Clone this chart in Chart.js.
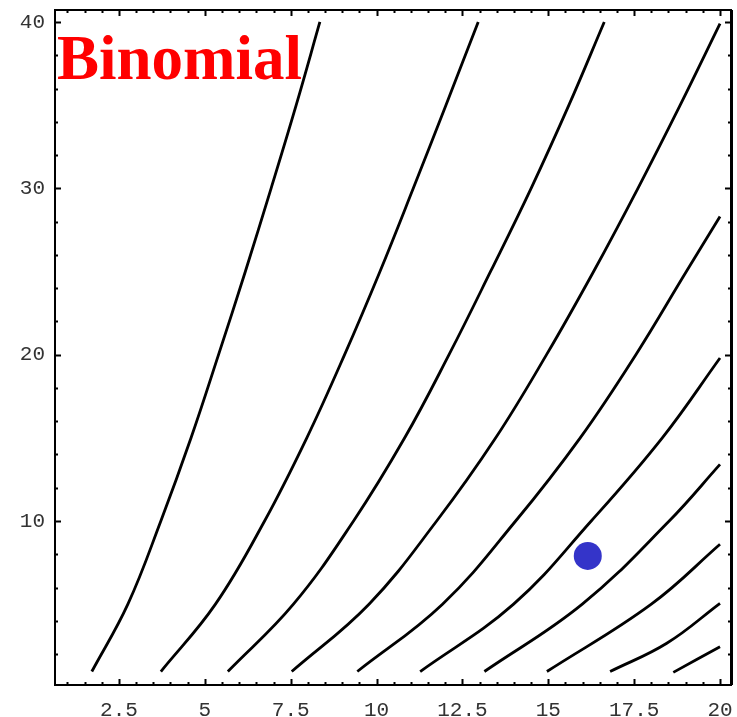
<!DOCTYPE html>
<html>
<head>
<meta charset="utf-8">
<title>Binomial contours</title>
<script src="https://cdn.jsdelivr.net/npm/chart.js@4/dist/chart.umd.min.js"></script>
<style>
    html, body { margin: 0; padding: 0; background: #fff; }
    #chart { display: block; }
</style>
</head>
<body>
<canvas id="chart" width="737" height="717"></canvas>
<script>
/**
 * Binomial contour plot (Mathematica style frame)
 * Values
 */

// Contour lines, left to right (x = horizontal value, y = vertical value)
const curve1X = [1.71, 2.76, 3.72, 4.60, 5.40, 6.18, 6.93, 7.66, 8.35];
const curve1Y = [0.95, 5, 10, 15, 20, 25, 30, 35, 40];
const curve2X = [3.72, 5.31, 6.74, 7.97, 9.07, 10.10, 11.07, 12.02, 12.96];
const curve2Y = [0.95, 5, 10, 15, 20, 25, 30, 35, 40];
const curve3X = [5.67, 7.58, 9.33, 10.82, 12.11, 13.32, 14.50, 15.60, 16.63];
const curve3Y = [0.95, 5, 10, 15, 20, 25, 30, 35, 40];
const curve4X = [7.53, 9.78, 11.75, 13.47, 14.95, 16.32, 17.61, 18.84, 20.0];
const curve4Y = [0.95, 5, 10, 15, 20, 25, 30, 35, 39.9];
const curve5X = [9.44, 11.92, 14.05, 15.93, 17.55, 19.02, 20.0];
const curve5Y = [0.95, 5, 10, 15, 20, 25, 28.3];
const curve6X = [11.27, 13.99, 16.25, 18.32, 20.0];
const curve6Y = [0.95, 5, 10, 15, 19.8];
const curve7X = [13.14, 15.99, 18.52, 20.0];
const curve7Y = [0.95, 5, 10, 13.4];
const curve8X = [14.96, 18.00, 20.0];
const curve8Y = [0.95, 5, 8.6];
const curve9X = [16.8, 18.45, 20.0];
const curve9Y = [0.95, 2.65, 5.05];
const curve10X = [18.64, 20.0];
const curve10Y = [0.9, 2.44];

// Observed point
const pointX = [16.15];
const pointY = [7.9];

// Axes
const xMajorTicks = [2.5, 5, 7.5, 10, 12.5, 15, 17.5, 20];
const xTickLabels = ['2.5', '5', '7.5', '10', '12.5', '15', '17.5', '20'];
const yMajorTicks = [10, 20, 30, 40];
const yTickLabels = ['10', '20', '30', '40'];
const titleText = 'Binomial';

(function() {
    'use strict';

    const curvesX = [curve1X, curve2X, curve3X, curve4X, curve5X, curve6X, curve7X, curve8X, curve9X, curve10X];
    const curvesY = [curve1Y, curve2Y, curve3Y, curve4Y, curve5Y, curve6Y, curve7Y, curve8Y, curve9Y, curve10Y];

    function toPoints(xs, ys) {
        return xs.map(function(x, i) { return { x: x, y: ys[i] }; });
    }

    const datasets = curvesX.map(function(xs, i) {
        return {
            data: toPoints(xs, curvesY[i]),
            showLine: true,
            borderColor: '#000',
            borderWidth: 2.8,
            pointRadius: 0,
            tension: 0.4,
            clip: false
        };
    });

    datasets.push({
        data: toPoints(pointX, pointY),
        showLine: false,
        pointRadius: 14,
        pointBackgroundColor: '#3434c9',
        pointBorderWidth: 0
    });

    /**
     * Frame with inward ticks on all four sides, plus the title
     */
    const framePlugin = {
        id: 'frame',
        afterDraw: function(chart) {
            const ctx = chart.ctx;
            const area = chart.chartArea;
            const xs = chart.scales.x;
            const ys = chart.scales.y;
            ctx.save();
            ctx.strokeStyle = '#000';
            ctx.lineCap = 'butt';
            ctx.lineWidth = 2;

            // ticks along x (bottom and top)
            for (let v = 1; v <= 20.001; v += 0.5) {
                const major = Math.abs(v / 2.5 - Math.round(v / 2.5)) < 1e-6;
                const px = Math.round(xs.getPixelForValue(v)) + 0.5;
                const len = major ? 6 : 3;
                ctx.beginPath();
                ctx.moveTo(px, area.bottom);
                ctx.lineTo(px, area.bottom - len);
                ctx.moveTo(px, area.top);
                ctx.lineTo(px, area.top + len);
                ctx.stroke();
            }
            // ticks along y (left and right)
            for (let v = 2; v <= 40.001; v += 2) {
                const major = v % 10 === 0;
                const py = Math.round(ys.getPixelForValue(v)) + 0.5;
                const len = major ? 6 : 3;
                ctx.beginPath();
                ctx.moveTo(area.left, py);
                ctx.lineTo(area.left + len, py);
                ctx.moveTo(area.right, py);
                ctx.lineTo(area.right - len, py);
                ctx.stroke();
            }

            // frame
            ctx.strokeRect(area.left, area.top, area.right - area.left, area.bottom - area.top);
            ctx.lineWidth = 3;
            ctx.beginPath();
            ctx.moveTo(area.right + 0.5, area.top);
            ctx.lineTo(area.right + 0.5, area.bottom);
            ctx.stroke();

            // title
            ctx.fillStyle = '#ff0000';
            ctx.font = 'bold 63px "Liberation Serif", "Times New Roman", serif';
            ctx.textBaseline = 'alphabetic';
            ctx.textAlign = 'left';
            ctx.fillText(titleText, area.left + 2, 79);
            ctx.restore();
        }
    };

    // drop the automatic room Chart.js keeps for the end labels
    function noScalePadding(scale) {
        scale.paddingLeft = 0;
        scale.paddingRight = 0;
        scale.paddingTop = 0;
        scale.paddingBottom = 0;
    }

    const tickFont = { family: '"Liberation Mono", "DejaVu Sans Mono", monospace', size: 21 };

    new Chart(document.getElementById('chart').getContext('2d'), {
        type: 'scatter',
        data: { datasets: datasets },
        options: {
            responsive: false,
            animation: false,
            layout: { autoPadding: false, padding: { top: 10, right: 6, left: 0, bottom: 0 } },
            plugins: {
                legend: { display: false },
                tooltip: { enabled: false }
            },
            scales: {
                x: {
                    type: 'linear',
                    position: 'bottom',
                    min: 0.638,
                    max: 20.32,
                    bounds: 'data',
                    grid: { display: false, drawTicks: false },
                    border: { display: false },
                    afterFit: function(scale) {
                        scale.height = 32;
                        noScalePadding(scale);
                    },
                    afterBuildTicks: function(scale) {
                        scale.ticks = xMajorTicks.map(function(v) { return { value: v }; });
                    },
                    ticks: {
                        autoSkip: false,
                        maxRotation: 0,
                        padding: 13,
                        color: '#333',
                        font: tickFont,
                        callback: function(value) {
                            const i = xMajorTicks.indexOf(value);
                            return i >= 0 ? xTickLabels[i] : '';
                        }
                    }
                },
                y: {
                    type: 'linear',
                    position: 'left',
                    min: 0.14,
                    max: 40.72,
                    bounds: 'data',
                    grid: { display: false, drawTicks: false },
                    border: { display: false },
                    afterFit: function(scale) {
                        scale.width = 55;
                        noScalePadding(scale);
                    },
                    afterBuildTicks: function(scale) {
                        scale.ticks = yMajorTicks.map(function(v) { return { value: v }; });
                    },
                    ticks: {
                        autoSkip: false,
                        padding: 10,
                        color: '#333',
                        font: tickFont,
                        callback: function(value) {
                            const i = yMajorTicks.indexOf(value);
                            return i >= 0 ? yTickLabels[i] : '';
                        }
                    }
                }
            }
        },
        plugins: [framePlugin]
    });
})();
</script>
</body>
</html>
